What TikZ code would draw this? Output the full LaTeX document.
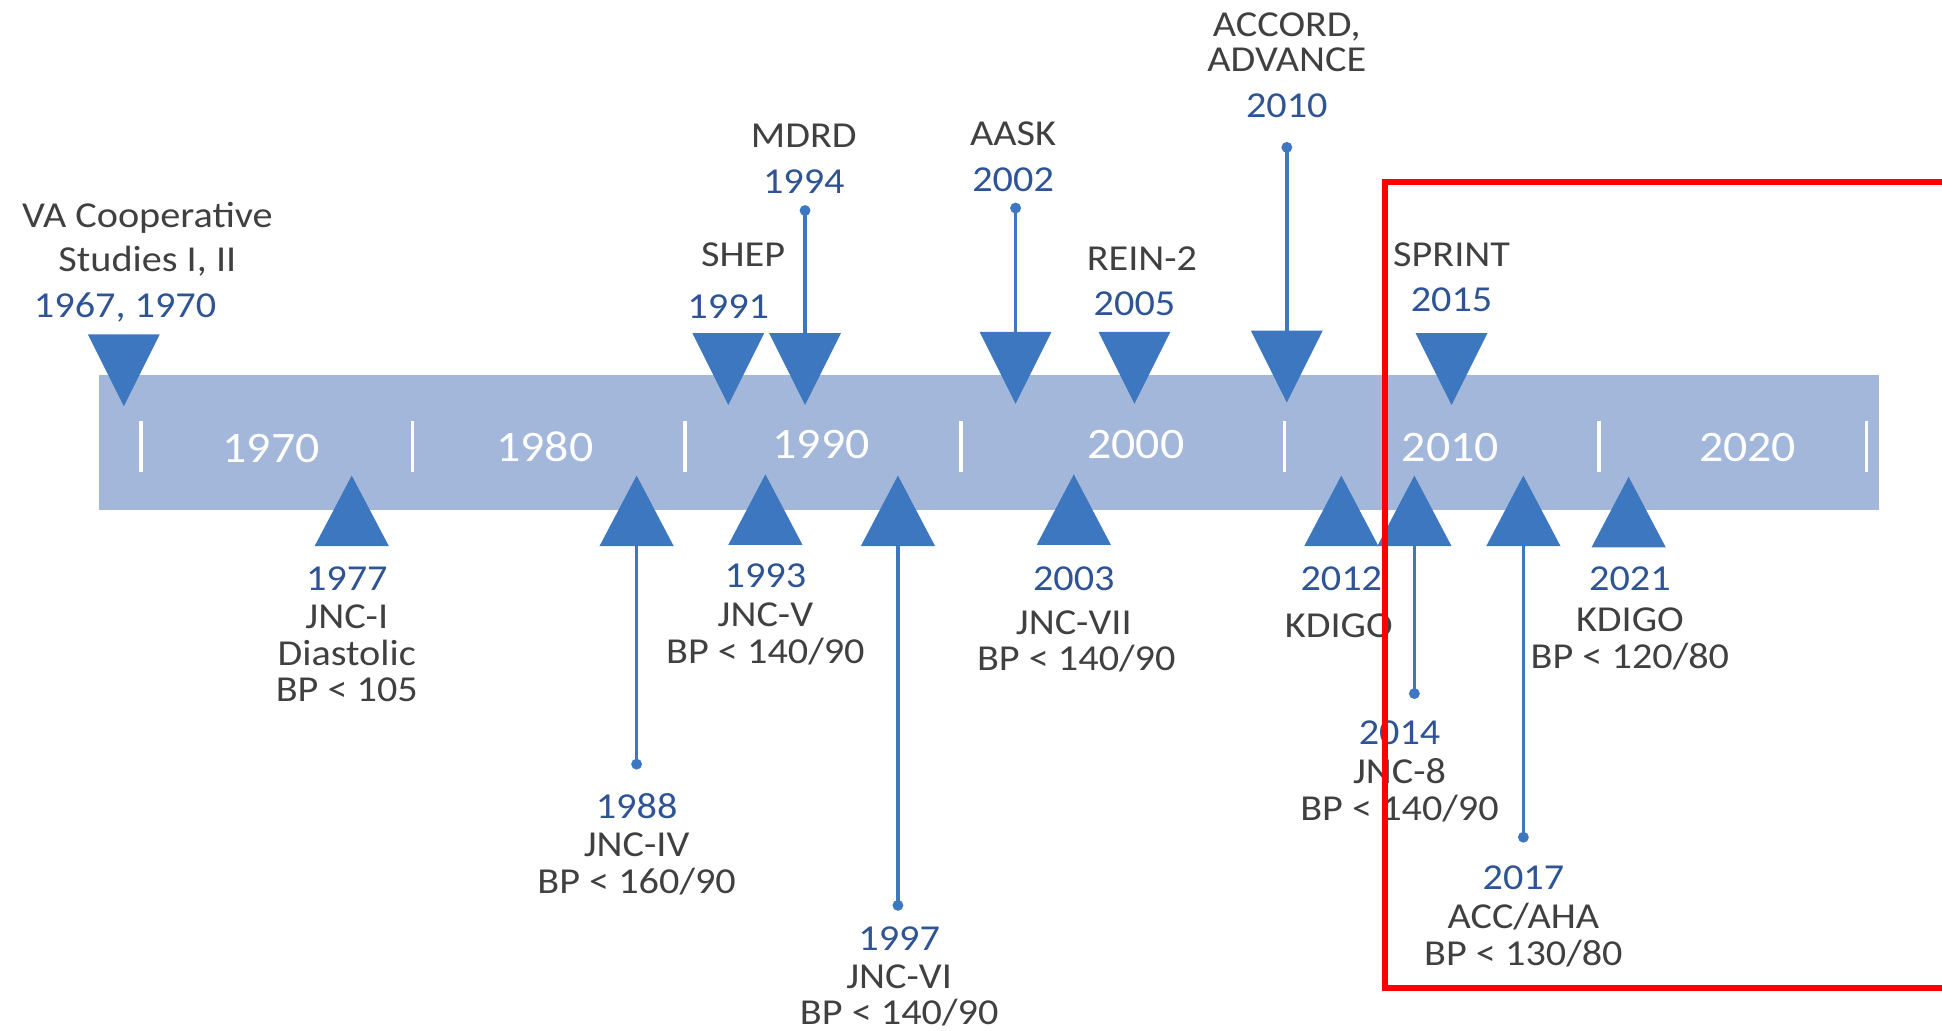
\documentclass[tikz,border=0pt]{standalone}
\usepackage{fontspec}
\setmainfont{Carlito}[FakeStretch=1.1]
\definecolor{barblue}{HTML}{A2B7D9}
\definecolor{triblue}{HTML}{3D77BF}
\definecolor{yrblue}{HTML}{2F5496}
\definecolor{txtgray}{HTML}{404040}
\tikzset{
  nm/.style={text=txtgray, font=\fontsize{21}{21}\selectfont, text height=13.5pt, text depth=0pt, inner sep=0pt},
  yr/.style={text=yrblue, font=\fontsize{21}{21}\selectfont, text height=13.5pt, text depth=0pt, inner sep=0pt},
  dec/.style={text=white, font=\fontsize{25}{25}\selectfont, text height=16pt, text depth=0pt, inner sep=0pt},
  tickline/.style={white, line width=0.07cm},
  conn/.style={triblue, line width=0.075cm},
  dot/.style={circle, fill=triblue, inner sep=0pt, minimum size=0.22cm},
  pics/dtri/.style={code={\fill[triblue] (-29,0) -- (29,0) -- (0,58) -- cycle; \coordinate (-top) at (0,0);}},
  pics/utri/.style={code={\fill[triblue] (-30,0) -- (30,0) -- (0,-57) -- cycle; \coordinate (-base) at (0,0);}},
}
\begin{document}
\begin{tikzpicture}[x=0.025cm, y=-0.025cm]
\useasboundingbox (0,0) rectangle (1568,832);
% bar
\fill[barblue] (80,303) rectangle (1517,412);
\foreach \tx in {114,333,553,776,1037,1291,1507} \draw[tickline] (\tx,340) -- (\tx,381);
\node[dec] (d1970) at (219,362) {1970};
\node[dec] (d1980) at (440,361) {1980};
\node[dec] (d1990) at (663,359) {1990};
\node[dec] (d2000) at (917,359) {2000};
\node[dec] (d2010) at (1171,361) {2010};
\node[dec] (d2020) at (1411,361) {2020};
% top events
\pic (tVA) at (100,270) {dtri};
\node[nm] (vaA) at (119,174) {VA Cooperative};
\node[nm] (vaB) at (119,210) {Studies I, II};
\node[yr] (vaY) at (101,247) {1967, 1970};

\pic (tSHEP) at (588,269) {dtri};
\node[nm] (shepN) at (600,206) {SHEP};
\node[yr] (shepY) at (588,248) {1991};

\pic (tMDRD) at (650,269) {dtri};
\node[nm] (mdrdN) at (649,110) {MDRD};
\node[yr] (mdrdY) at (649,147) {1994};
\node[dot] (dMDRD) at (650,170) {};
\draw[conn] (dMDRD.center) -- (tMDRD-top);

\pic (tAASK) at (820,268) {dtri};
\node[nm] (aaskN) at (818,108) {AASK};
\node[yr] (aaskY) at (818,145) {2002};
\node[dot] (dAASK) at (820,168) {};
\draw[conn] (dAASK.center) -- (tAASK-top);

\pic (tREIN) at (916,268) {dtri};
\node[nm] (reinN) at (922,209) {REIN-2};
\node[yr] (reinY) at (916,245) {2005};

\pic (tACC) at (1039,267) {dtri};
\node[nm] (accA) at (1039,20) {ACCORD,};
\node[nm] (accB) at (1039,48) {ADVANCE};
\node[yr] (accY) at (1039,85) {2010};
\node[dot] (dACC) at (1039,119) {};
\draw[conn] (dACC.center) -- (tACC-top);

\pic (tSPR) at (1172,269) {dtri};
\node[nm] (sprN) at (1172,206) {SPRINT};
\node[yr] (sprY) at (1172,242) {2015};

% bottom events
\pic (t77) at (284,441) {utri};
\node[yr] (y77) at (280,467) {1977};
\node[nm] (n77a) at (280,498) {JNC-I};
\node[nm] (n77b) at (280,528) {Diastolic};
\node[nm] (n77c) at (280,557) {BP < 105};

\pic (t88) at (514,441) {utri};
\node[dot] (d88) at (514,617) {};
\draw[conn] (t88-base) -- (d88.center);
\node[yr] (y88) at (514,651) {1988};
\node[nm] (n88a) at (514,682) {JNC-IV};
\node[nm] (n88b) at (514,712) {BP < 160/90};

\pic (t93) at (618,440) {utri};
\node[yr] (y93) at (618,465) {1993};
\node[nm] (n93a) at (618,496) {JNC-V};
\node[nm] (n93b) at (618,526) {BP < 140/90};

\pic (t97) at (725,441) {utri};
\node[dot] (d97) at (725,731) {};
\draw[conn] (t97-base) -- (d97.center);
\node[yr] (y97) at (726,758) {1997};
\node[nm] (n97a) at (726,789) {JNC-VI};
\node[nm] (n97b) at (726,818) {BP < 140/90};

\pic (t03) at (867,440) {utri};
\node[yr] (y03) at (867,467) {2003};
\node[nm] (n03a) at (867,503) {JNC-VII};
\node[nm] (n03b) at (869,532) {BP < 140/90};

\pic (t12) at (1083,441) {utri};
\node[yr] (y12) at (1083,467) {2012};
\node[nm] (n12a) at (1081,505) {KDIGO};

\pic (t14) at (1142,441) {utri};
\node[dot] (d14) at (1142,560) {};
\draw[conn] (t14-base) -- (d14.center);
\node[yr] (y14) at (1130,592) {2014};
\node[nm] (n14a) at (1130,623) {JNC-8};
\node[nm] (n14b) at (1130,653) {BP < 140/90};

\pic (t17) at (1230,441) {utri};
\node[dot] (d17) at (1230,676) {};
\draw[conn] (t17-base) -- (d17.center);
\node[yr] (y17) at (1230,709) {2017};
\node[nm] (n17a) at (1230,740) {ACC/AHA};
\node[nm] (n17b) at (1230,770) {BP < 130/80};

\pic (t21) at (1315,442) {utri};
\node[yr] (y21) at (1316,467) {2021};
\node[nm] (n21a) at (1316,500) {KDIGO};
\node[nm] (n21b) at (1316,530) {BP < 120/80};

% highlight box
\draw[red, line width=0.125cm] (1570,147) -- (1118,147) -- (1118,798) -- (1570,798);
\end{tikzpicture}
\end{document}
